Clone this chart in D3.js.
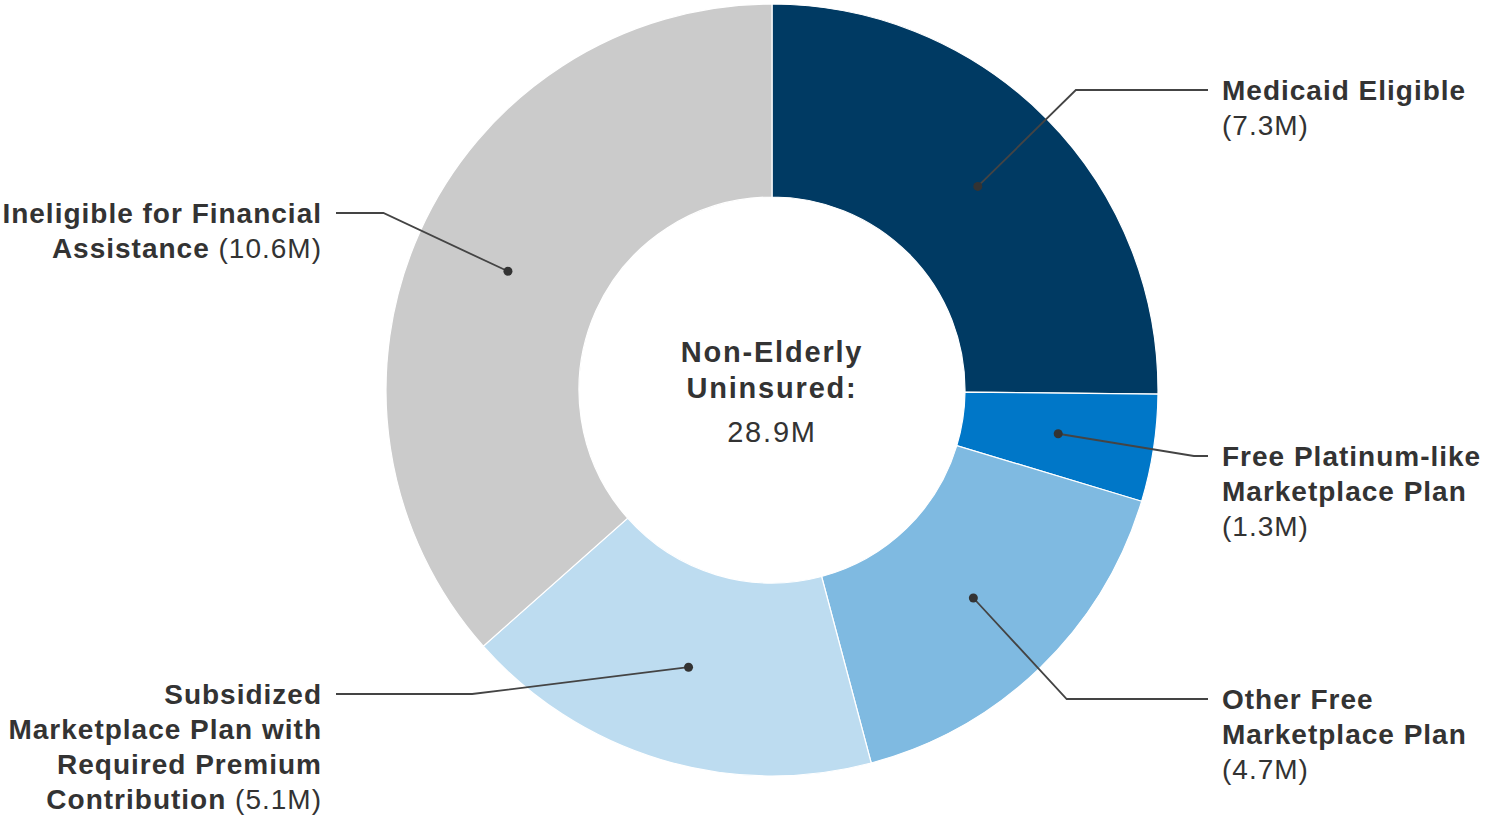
<!DOCTYPE html>
<html>
<head>
<meta charset="utf-8">
<script src="https://cdn.jsdelivr.net/npm/d3@7"></script>
<style>
  body { margin: 0; background: #fff; }
  svg text { font-family: "Liberation Sans", Arial, sans-serif; fill: #333; }
</style>
</head>
<body>
<script>
var w = 1486;
var h = 816;

// slices, clockwise from 12 o'clock
var categories = ["Medicaid Eligible", "Free Platinum-like Marketplace Plan", "Other Free Marketplace Plan",
                  "Subsidized Marketplace Plan with Required Premium Contribution", "Ineligible for Financial Assistance"];
var values = [7.3, 1.3, 4.7, 5.1, 10.6];
var valueLabels = ["(7.3M)", "(1.3M)", "(4.7M)", "(5.1M)", "(10.6M)"];
var colors = ["#003a63", "#0077c8", "#7fbae1", "#bddcf0", "#cbcbcb"];

// label lines (bold parts), value is appended in regular weight
var labelLines = [
  ["Medicaid Eligible"],
  ["Free Platinum-like", "Marketplace Plan"],
  ["Other Free", "Marketplace Plan"],
  ["Subsidized", "Marketplace Plan with", "Required Premium", "Contribution"],
  ["Ineligible for Financial", "Assistance"]
];
// value goes on its own line, or on the end of the last line
var valueOwnLine = [true, true, true, false, false];
var labelSide = ["right", "right", "right", "left", "left"];
var labelY = [90, 456, 699, 694, 213];

var centerTitle = ["Non-Elderly", "Uninsured:"];
var centerValue = "28.9M";

var cx = 772, cy = 390;
var outerR = 386, innerR = 193, elbowR = 427;
var lineH = 35;

var svg = d3.select("body").append("svg")
    .attr("width", w)
    .attr("height", h);

var g = svg.append("g").attr("transform", "translate(" + cx + "," + cy + ")");

var pie = d3.pie().sort(null).value(function(d) { return d; });
var arc = d3.arc().innerRadius(innerR).outerRadius(outerR);
var arcs = pie(values);

g.selectAll("path.slice")
  .data(arcs).enter()
  .append("path")
    .attr("class", "slice")
    .attr("d", arc)
    .attr("fill", function(d, i) { return colors[i]; })
    .attr("stroke", "#fff")
    .attr("stroke-width", 1.2);

// leader lines: centroid -> point on elbow circle at label height -> horizontal run
arcs.forEach(function(d, i) {
  var c = arc.centroid(d);
  var ly = labelY[i] - cy;
  var side = labelSide[i] == "right" ? 1 : -1;
  var ex = side * Math.sqrt(elbowR * elbowR - ly * ly);
  var endX = side > 0 ? 1208 - cx : 336 - cx;

  g.append("polyline")
    .attr("points", [c, [ex, ly], [endX, ly]].map(function(p) { return p.join(","); }).join(" "))
    .attr("fill", "none")
    .attr("stroke", "#444")
    .attr("stroke-width", 1.8);

  g.append("circle")
    .attr("cx", c[0])
    .attr("cy", c[1])
    .attr("r", 4.5)
    .attr("fill", "#333");

  var tx = side > 0 ? 1222 : 322;
  var t = svg.append("text")
    .attr("text-anchor", side > 0 ? "start" : "end")
    .attr("font-size", 28)
    .attr("letter-spacing", 1.0);

  var lines = labelLines[i];
  lines.forEach(function(l, j) {
    t.append("tspan")
      .attr("x", tx)
      .attr("y", labelY[i] + 10 + j * lineH)
      .attr("font-weight", "bold")
      .text(l);
    if (!valueOwnLine[i] && j == lines.length - 1) {
      t.append("tspan").attr("font-weight", "normal").text(" " + valueLabels[i]);
    }
  });
  if (valueOwnLine[i]) {
    t.append("tspan")
      .attr("x", tx)
      .attr("y", labelY[i] + 10 + lines.length * lineH)
      .attr("font-weight", "normal")
      .text(valueLabels[i]);
  }
});

// centre text
var ct = svg.append("text")
  .attr("text-anchor", "middle")
  .attr("font-size", 29)
  .attr("letter-spacing", 1.8);
centerTitle.forEach(function(l, j) {
  ct.append("tspan").attr("x", cx).attr("y", 362 + j * 36).attr("font-weight", "bold").text(l);
});
ct.append("tspan").attr("x", cx).attr("y", 442).attr("font-weight", "normal").text(centerValue);
</script>
</body>
</html>
